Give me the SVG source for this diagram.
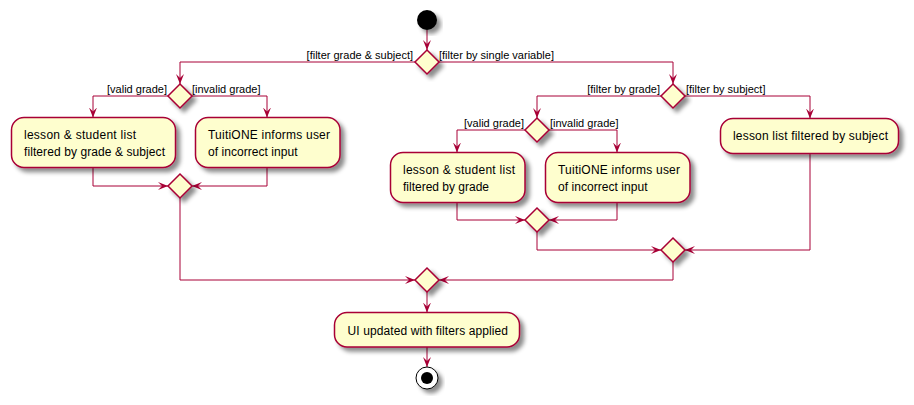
<svg xmlns="http://www.w3.org/2000/svg" width="914" height="405" viewBox="0 0 914 405">
<style>
.act{fill:#FEFECE;stroke:#A80036;stroke-width:1.5;filter:url(#sh)}
.dia{fill:#FEFECE;stroke:#A80036;stroke-width:1.5;filter:url(#sh)}
.t{font-family:"Liberation Sans",Arial,sans-serif;font-size:12px;fill:#000}
.l{font-family:"Liberation Sans",Arial,sans-serif;font-size:11px;fill:#000}
.c{fill:none;stroke:#A80036;stroke-width:1}
.a{marker-end:url(#ah)}
</style>
<defs>
<filter id="sh" x="-30%" y="-30%" width="160%" height="160%">
<feGaussianBlur in="SourceAlpha" stdDeviation="2" result="b"/>
<feColorMatrix in="b" type="matrix" values="0 0 0 0 0  0 0 0 0 0  0 0 0 0 0  0 0 0 0.45 0" result="c"/>
<feOffset in="c" dx="4" dy="4" result="o"/>
<feMerge><feMergeNode in="o"/><feMergeNode in="SourceGraphic"/></feMerge>
</filter>
<marker id="ah" markerUnits="userSpaceOnUse" markerWidth="12" markerHeight="10" refX="10" refY="4" orient="auto" viewBox="0 0 12 10">
<path d="M0,0 L10,4 L0,8 L4,4 Z" fill="#A80036"/>
</marker>
</defs>

<g id="connectors">
<path class="c a" d="M427,30 L427,50"/>
<path class="c a" d="M415,62 L180,62 L180,84"/>
<path class="c a" d="M439,62 L673,62 L673,84"/>
<path class="c a" d="M168,96 L93,96 L93,117.5"/>
<path class="c a" d="M192,96 L267,96 L267,117.5"/>
<path class="c a" d="M93,167.5 L93,186 L168,186"/>
<path class="c a" d="M267,167.5 L267,186 L192,186"/>
<path class="c a" d="M180,198 L180,280 L415,280"/>
<path class="c a" d="M661,96 L537,96 L537,118"/>
<path class="c a" d="M685,96 L810,96 L810,118.5"/>
<path class="c a" d="M525,130 L457,130 L457,152.5"/>
<path class="c a" d="M549,130 L617,130 L617,152.5"/>
<path class="c a" d="M457,202.5 L457,220 L525,220"/>
<path class="c a" d="M617,202.5 L617,220 L549,220"/>
<path class="c a" d="M537,232 L537,250 L661,250"/>
<path class="c a" d="M810,153.5 L810,250 L685,250"/>
<path class="c a" d="M673,262 L673,280 L439,280"/>
<path class="c a" d="M427,292 L427,312.5"/>
<path class="c a" d="M427,347 L427,367"/>
<text class="l" x="413" y="59" text-anchor="end">[filter grade &amp; subject]</text>
<text class="l" x="439" y="59">[filter by single variable]</text>
<text class="l" x="167" y="93" text-anchor="end">[valid grade]</text>
<text class="l" x="192" y="93">[invalid grade]</text>
<text class="l" x="660" y="93" text-anchor="end">[filter by grade]</text>
<text class="l" x="686" y="93">[filter by subject]</text>
<text class="l" x="524" y="127" text-anchor="end">[valid grade]</text>
<text class="l" x="550" y="127">[invalid grade]</text>
</g>

<g id="start"><circle cx="427" cy="20" r="10" fill="#000" filter="url(#sh)"/></g>
<g id="d_top"><polygon class="dia" points="427,50 439,62 427,74 415,62"/></g>
<g id="d_grade_subject"><polygon class="dia" points="180,84 192,96 180,108 168,96"/></g>
<g id="a_ls_gs"><rect class="act" x="11.5" y="117.5" width="164" height="50" rx="12.5"/>
<text class="t" x="24" y="139" textLength="112" lengthAdjust="spacing">lesson &amp; student list</text>
<text class="t" x="24" y="155.5" textLength="141" lengthAdjust="spacing">filtered by grade &amp; subject</text></g>
<g id="a_err1"><rect class="act" x="195.5" y="117.5" width="144.5" height="50" rx="12.5"/>
<text class="t" x="208" y="139" textLength="122" lengthAdjust="spacing">TuitiONE informs user</text>
<text class="t" x="208" y="155.5" textLength="89.5" lengthAdjust="spacing">of incorrect input</text></g>
<g id="m_gs"><polygon class="dia" points="180,174 192,186 180,198 168,186"/></g>

<g id="d_single"><polygon class="dia" points="673,84 685,96 673,108 661,96"/></g>
<g id="d_grade"><polygon class="dia" points="537,118 549,130 537,142 525,130"/></g>
<g id="a_ls_g"><rect class="act" x="390.5" y="152.5" width="134.5" height="50" rx="12.5"/>
<text class="t" x="403" y="174" textLength="112" lengthAdjust="spacing">lesson &amp; student list</text>
<text class="t" x="403" y="190.5" textLength="86" lengthAdjust="spacing">filtered by grade</text></g>
<g id="a_err2"><rect class="act" x="545.5" y="152.5" width="144.5" height="50" rx="12.5"/>
<text class="t" x="558" y="174" textLength="122" lengthAdjust="spacing">TuitiONE informs user</text>
<text class="t" x="558" y="190.5" textLength="89.5" lengthAdjust="spacing">of incorrect input</text></g>
<g id="m_g"><polygon class="dia" points="537,208 549,220 537,232 525,220"/></g>
<g id="a_subject"><rect class="act" x="720.5" y="118.5" width="178" height="35" rx="12.5"/>
<text class="t" x="733" y="140" textLength="155" lengthAdjust="spacing">lesson list filtered by subject</text></g>
<g id="m_single"><polygon class="dia" points="673,238 685,250 673,262 661,250"/></g>
<g id="m_final"><polygon class="dia" points="427,268 439,280 427,292 415,280"/></g>
<g id="a_ui"><rect class="act" x="334.5" y="312.5" width="185" height="34.5" rx="12.5"/>
<text class="t" x="347.5" y="334.5" textLength="160.5" lengthAdjust="spacing">UI updated with filters applied</text></g>
<g id="end"><circle cx="427" cy="378" r="11" fill="#fff" stroke="#000" stroke-width="1" filter="url(#sh)"/><circle cx="427" cy="378" r="6" fill="#000"/></g>
</svg>
